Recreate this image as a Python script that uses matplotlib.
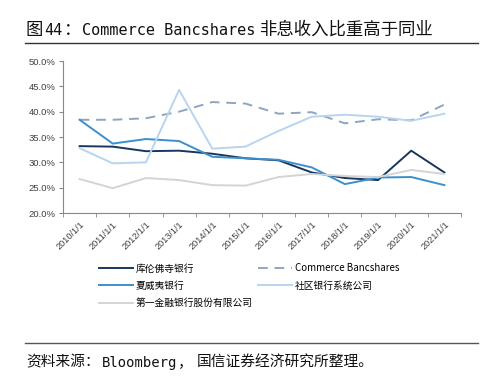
import numpy as np
import matplotlib.pyplot as plt
from matplotlib.lines import Line2D

plt.rcParams['font.family'] = ['Noto Sans CJK SC', 'DejaVu Sans']

years = ["2010/1/1", "2011/1/1", "2012/1/1", "2013/1/1", "2014/1/1", "2015/1/1",
         "2016/1/1", "2017/1/1", "2018/1/1", "2019/1/1", "2020/1/1", "2021/1/1"]

# non-interest income share (%)
cullen = [33.2, 33.1, 32.2, 32.3, 31.7, 30.8, 30.4, 28.0, 26.9, 26.5, 32.3, 28.0]
commerce = [38.4, 38.4, 38.7, 40.0, 41.9, 41.6, 39.6, 39.9, 37.7, 38.5, 38.3, 41.4]
hawaii = [38.4, 33.7, 34.6, 34.2, 31.1, 30.8, 30.5, 29.0, 25.7, 27.0, 27.1, 25.5]
community = [32.8, 29.8, 30.0, 44.3, 32.7, 33.1, 36.2, 39.0, 39.4, 39.0, 38.2, 39.6]
first_fin = [26.7, 24.9, 26.9, 26.5, 25.5, 25.4, 27.1, 27.7, 27.3, 27.1, 28.5, 27.7]

names = ["库伦佛寺银行", "Commerce Bancshares", "夏威夷银行", "社区银行系统公司", "第一金融银行股份有限公司"]

CJK = 'Noto Sans CJK SC'
MONO = 'DejaVu Sans Mono'

fig = plt.figure(figsize=(4.9, 3.78), dpi=100)
ax = fig.add_axes([0.1286, 0.4365, 0.8122, 0.4021])

x = np.arange(len(years))
lw = 1.4
l1, = ax.plot(x, cullen, color='#17375e', lw=lw)
l2, = ax.plot(x, commerce, color='#8fa5bf', lw=lw, dashes=(5, 3.5))
l3, = ax.plot(x, hawaii, color='#3b8fcf', lw=lw)
l4, = ax.plot(x, community, color='#b9d4f0', lw=lw)
l5, = ax.plot(x, first_fin, color='#d4d4d4', lw=lw)

ax.set_xlim(-0.5, len(years) - 0.5)
ax.set_ylim(20, 50)
ax.set_yticks(np.arange(20, 51, 5))
ax.set_yticklabels([f"{v:.1f}%" for v in np.arange(20, 51, 5)], family='Liberation Sans')
ax.set_xticks(x)
ax.set_xticklabels(years, rotation=45, ha='right', rotation_mode='anchor', family='Liberation Sans')
ax.set_xticks(np.arange(-0.5, len(years)), minor=True)
ax.tick_params(axis='x', which='major', length=0, pad=5, labelsize=6.6, colors='#404040')
ax.tick_params(axis='x', which='minor', length=3, color='#888888', direction='out')
ax.tick_params(axis='y', length=3, color='#888888', labelsize=6.8, colors='#404040', pad=2.5)
for s in ['top', 'right']:
    ax.spines[s].set_visible(False)
for s in ['left', 'bottom']:
    ax.spines[s].set_color('#888888')
    ax.spines[s].set_linewidth(0.8)

handles = [l1, l3, l5, l2, l4]
labels = [names[0], names[2], names[4], names[1], names[3]]
fig.legend(handles, labels, loc='upper left', bbox_to_anchor=(0.202, 0.303),
           ncol=2, frameon=False, fontsize=7, handlelength=3.5,
           handletextpad=0.3, columnspacing=0.5, labelspacing=0.75,
           borderaxespad=0, borderpad=0)


def draw_run(parts, x0, y0):
    # draw mixed CJK / monospace text piece by piece, gap in pixels after each piece
    renderer = fig.canvas.get_renderer()
    xx = x0
    for s, fam, size, gap in parts:
        t = fig.text(xx, y0, s, fontsize=size, family=fam, ha='left', va='baseline',
                     color='#111111')
        xx += (t.get_window_extent(renderer).width + gap) / fig.bbox.width


draw_run([("图", CJK, 12.5, 1), ("44", MONO, 11, 1), ("：", CJK, 12.5, 1),
          ("Commerce Bancshares", MONO, 11, 4),
          ("非息收入比重高于同业", CJK, 12.5, 0)], 0.053, 0.908)
fig.add_artist(Line2D([0.051, 0.976], [0.886, 0.886], color='#333333', lw=1))
fig.add_artist(Line2D([0.051, 0.976], [0.093, 0.093], color='#555555', lw=1))
draw_run([("资料来源：", CJK, 10.6, 2), ("Bloomberg", MONO, 10, 1),
          ("，", CJK, 10.6, 4), ("国信证券经济研究所整理。", CJK, 10.6, 0)], 0.053, 0.03)

fig.savefig('out.png', dpi=100)
